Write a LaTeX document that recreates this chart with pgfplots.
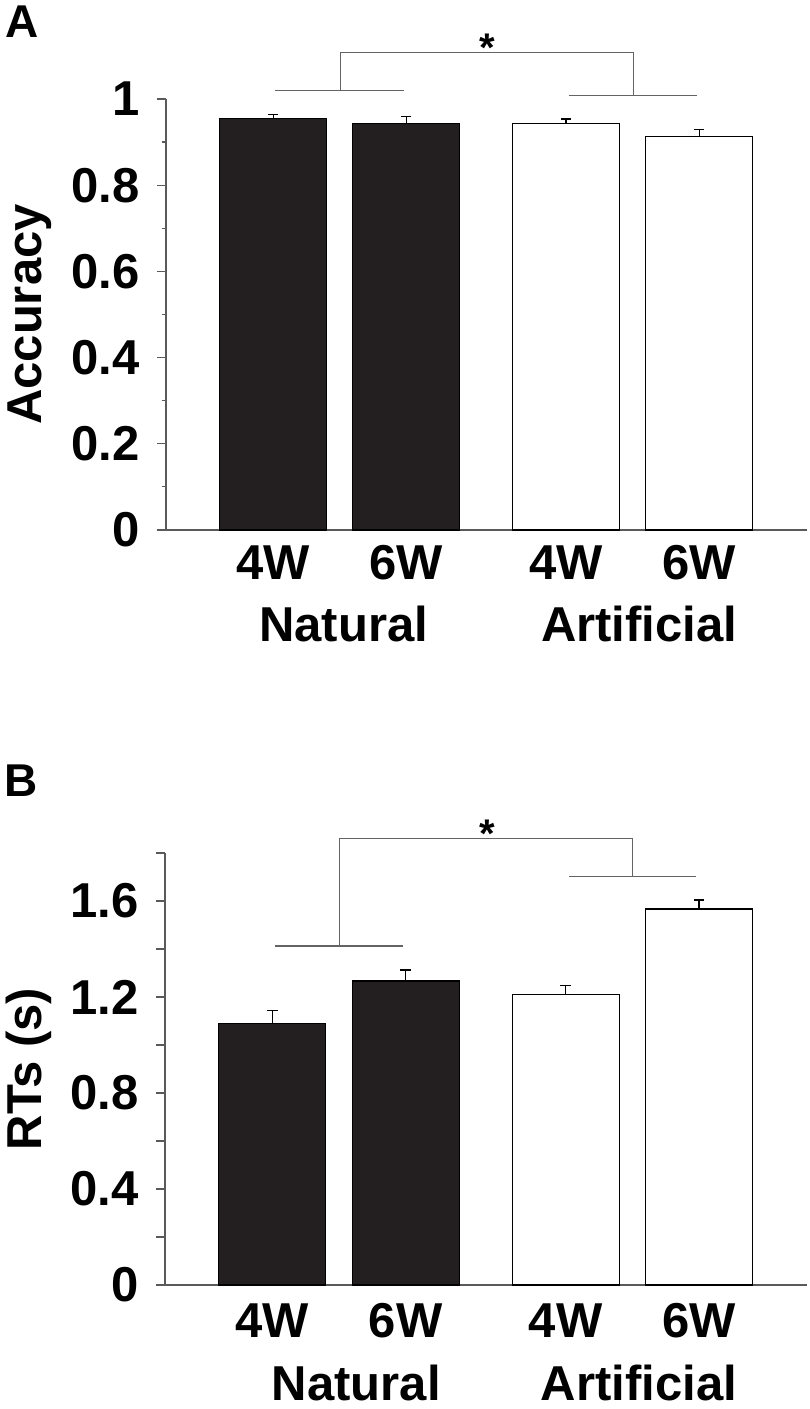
\documentclass[border=0pt]{standalone}
\usepackage{fontspec}
\setmainfont{Liberation Sans}
\usepackage{pgfplots}
\pgfplotsset{compat=1.18}
\definecolor{barblack}{RGB}{35,31,32}
\definecolor{axisgray}{RGB}{90,90,90}
\definecolor{brgray}{RGB}{100,100,100}
\newcommand{\lbl}{\fontsize{24.5}{28}\selectfont\bfseries}
\newcommand{\pnl}{\fontsize{23}{26}\selectfont\bfseries}
\newcommand{\str}{\fontsize{20}{24}\selectfont\bfseries}
\pgfplotsset{
 myaxis/.style={
  scale only axis,
  xmin=0.195, xmax=5.01, ymin=0,
  axis x line*=bottom, axis y line*=left,
  axis line style={draw=axisgray, line width=0.6pt},
  tick align=outside,
  xtick={1,2,3.2,4.2}, xticklabels={4W,6W,4W,6W},
  major x tick style={draw=none},
  y tick style={draw=axisgray, line width=0.6pt},
  major tick length=4.5pt, minor tick length=2pt,
  tick label style={font=\lbl},
  xticklabel style={anchor=base, yshift=-20.5pt},
  yticklabel style={inner sep=0pt, xshift=-8.5pt},
  every axis y label/.style={rotate=90, anchor=north, inner sep=0pt, font=\lbl},
  clip=false,
 },
 mybar/.style={ybar, bar width=53.5pt, bar shift=0pt, draw=black, line width=0.6pt,
   error bars/y dir=plus, error bars/y explicit,
   error bars/error mark=|,
   error bars/error bar style={black, line width=0.6pt},
   error bars/error mark options={black, line width=0.7pt, mark size=2.6pt}},
}
\begin{document}
\begin{tikzpicture}
\path[use as bounding box] (0,0) rectangle (404.5pt,704.5pt);
\node[anchor=base west, inner sep=0pt, font=\pnl] at (2.5pt,685.5pt) {A};
\node[anchor=base west, inner sep=0pt, font=\pnl] at (2pt,306pt) {B};

\begin{axis}[myaxis, at={(83pt,439.5pt)}, anchor=south west,
  width=320.5pt, height=215.5pt, ymax=1,
  ytick={0,0.2,0.4,0.6,0.8,1}, yticklabels={0,0.2,0.4,0.6,0.8,1},
  minor ytick={0.1,0.3,0.5,0.7,0.9},
  ylabel={Accuracy},
  every axis y label/.append style={at={(axis description cs:-0.248,0.5)}}]
\addplot[mybar, fill=barblack] coordinates {(1,0.955) +- (0,0.009) (2,0.943) +- (0,0.016)};
\addplot[mybar, fill=white] coordinates {(3.2,0.943) +- (0,0.011) (4.2,0.913) +- (0,0.016)};
\draw[brgray, line width=0.6pt] (axis cs:1.015,1.019) -- (axis cs:1.983,1.019);
\draw[brgray, line width=0.6pt] (axis cs:1.503,1.019) -- (axis cs:1.503,1.108) -- (axis cs:3.708,1.108) -- (axis cs:3.708,1.009);
\draw[brgray, line width=0.6pt] (axis cs:3.22,1.009) -- (axis cs:4.185,1.009);
\node[anchor=north, inner sep=0pt, font=\str] at (axis cs:2.605,1.152) {*};
\node[anchor=base, inner sep=0pt, font=\lbl, yshift=-56pt] at (axis cs:1.53,0) {Natural};
\node[anchor=base, inner sep=0pt, font=\lbl, yshift=-56pt] at (axis cs:3.75,0) {Artificial};
\end{axis}

\begin{axis}[myaxis, at={(82.5pt,62pt)}, anchor=south west,
  width=321pt, height=216pt, ymax=1.8,
  ytick={0,0.2,0.4,0.6,0.8,1.0,1.2,1.4,1.6,1.8},
  yticklabels={0,,0.4,,0.8,,1.2,,1.6,},
  ylabel={RTs (s)},
  xticklabel style={yshift=-1pt},
  every axis y label/.append style={at={(axis description cs:-0.249,0.5)}}]
\addplot[mybar, fill=barblack] coordinates {(1,1.089) +- (0,0.054) (2,1.267) +- (0,0.046)};
\addplot[mybar, fill=white] coordinates {(3.2,1.21) +- (0,0.037) (4.2,1.567) +- (0,0.037)};
\draw[brgray, line width=0.6pt] (axis cs:1.022,1.4125) -- (axis cs:1.983,1.4125);
\draw[brgray, line width=0.6pt] (axis cs:1.503,1.4125) -- (axis cs:1.503,1.861) -- (axis cs:3.70,1.861) -- (axis cs:3.70,1.701);
\draw[brgray, line width=0.6pt] (axis cs:3.228,1.701) -- (axis cs:4.18,1.701);
\node[anchor=north, inner sep=0pt, font=\str] at (axis cs:2.61,1.9375) {*};
\node[anchor=base, inner sep=0pt, font=\lbl, yshift=-57.5pt] at (axis cs:1.63,0) {Natural};
\node[anchor=base, inner sep=0pt, font=\lbl, yshift=-57.5pt] at (axis cs:3.75,0) {Artificial};
\end{axis}
\end{tikzpicture}
\end{document}
